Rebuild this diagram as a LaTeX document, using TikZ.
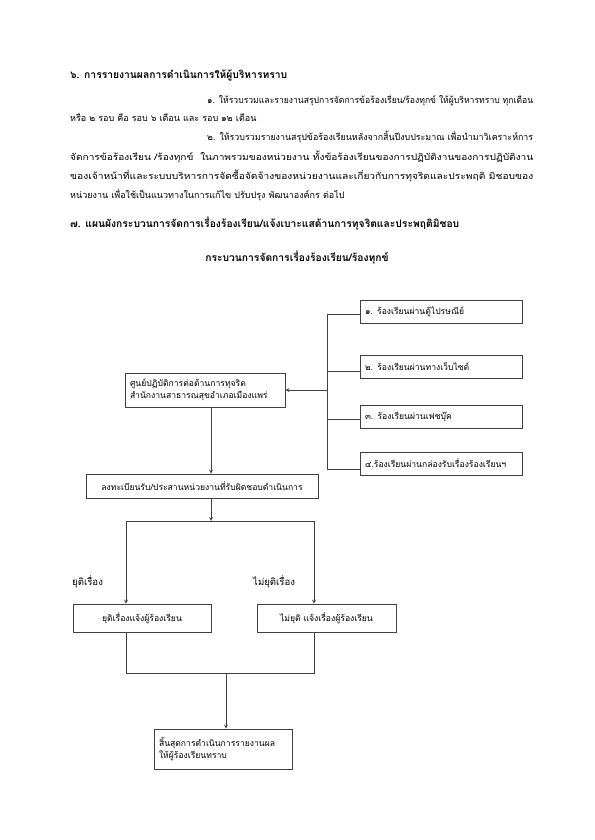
\documentclass[tikz,border=0pt]{standalone}
\usepackage{graphicx}
\usepackage{fontspec}
\setmainfont[Script=Thai]{Loma}
\newsavebox\linebox
\newcommand{\fitline}[2]{\sbox\linebox{#2}\resizebox{#1}{\ht\linebox}{\usebox\linebox}}
\begin{document}
\begin{tikzpicture}[x=1pt, y=-1pt, >=stealth,
    txt/.style={anchor=west, inner sep=0pt, font=\fontsize{9}{10}\selectfont},
    head/.style={txt, font=\fontsize{10.3}{12}\selectfont\bfseries},
    box/.style={draw=black!75, line width=0.8pt, inner sep=5pt, font=\fontsize{8.6}{12}\selectfont},
    flow/.style={draw=black!75, line width=0.8pt}]
  \useasboundingbox (0, 0) rectangle (594, 840);
  % section 6
  \node[head] (h6) at (70, 75) {๖. การรายงานผลการดำเนินการให้ผู้บริหารทราบ};
  \node[txt] (p1) at (207, 101) {\fitline{326pt}{๑. ให้รวบรวมและรายงานสรุปการจัดการข้อร้องเรียน/ร้องทุกข์ ให้ผู้บริหารทราบ ทุกเดือน}};
  \node[txt] (p2) at (70, 118) {หรือ ๒ รอบ คือ รอบ ๖ เดือน และ รอบ ๑๒ เดือน};
  \node[txt] (p3) at (207, 137) {\fitline{326pt}{๒. ให้รวบรวมรายงานสรุปข้อร้องเรียนหลังจากสิ้นปีงบประมาณ เพื่อนำมาวิเคราะห์การ}};
  \node[txt] (p4) at (70, 157) {\fitline{463pt}{จัดการข้อร้องเรียน /ร้องทุกข์ \ ในภาพรวมของหน่วยงาน ทั้งข้อร้องเรียนของการปฏิบัติงานของการปฏิบัติงาน}};
  \node[txt] (p5) at (70, 176) {\fitline{463pt}{ของเจ้าหน้าที่และระบบบริหารการจัดซื้อจัดจ้างของหน่วยงานและเกี่ยวกับการทุจริตและประพฤติ มิชอบของ}};
  \node[txt] (p6) at (70, 195) {หน่วยงาน เพื่อใช้เป็นแนวทางในการแก้ไข ปรับปรุง พัฒนาองค์กร ต่อไป};
  % section 7
  \node[head] (h7) at (70, 224) {๗. แผนผังกระบวนการจัดการเรื่องร้องเรียน/แจ้งเบาะแสด้านการทุจริตและประพฤติมิชอบ};
  \node[head, anchor=center] (title) at (297, 258) {กระบวนการจัดการเรื่องร้องเรียน/ร้องทุกข์};
  % channels
  \node[box, minimum width=162pt, minimum height=23pt, text width=152pt, align=left] (src1) at (441, 311.5) {๑. ร้องเรียนผ่านตู้ไปรษณีย์};
  \node[box, minimum width=162pt, minimum height=23pt, text width=152pt, align=left] (src2) at (441, 367) {๒. ร้องเรียนผ่านทางเว็บไซต์};
  \node[box, minimum width=162pt, minimum height=23pt, text width=152pt, align=left] (src3) at (441, 416.5) {๓. ร้องเรียนผ่านเฟซบุ๊ค};
  \node[box, minimum width=162pt, minimum height=23pt, text width=152pt, align=left] (src4) at (441, 463.5) {๔.ร้องเรียนผ่านกล่องรับเรื่องร้องเรียนฯ};
  \node[box, minimum width=160pt, minimum height=34pt, text width=150pt, align=left] (hub) at (205, 390) {ศูนย์ปฏิบัติการต่อต้านการทุจริต\\สำนักงานสาธารณสุขอำเภอเมืองแพร่};
  \node[box, minimum width=232pt, minimum height=24pt] (reg) at (202, 486) {ลงทะเบียนรับ/ประสานหน่วยงานที่รับผิดชอบดำเนินการ};
  \node[box, minimum width=138pt, minimum height=28pt] (done) at (142, 618) {ยุติเรื่องแจ้งผู้ร้องเรียน};
  \node[box, minimum width=139pt, minimum height=28pt] (notdone) at (326.5, 618) {ไม่ยุติ แจ้งเรื่องผู้ร้องเรียน};
  \node[box, minimum width=138pt, minimum height=40pt, text width=128pt, align=left] (final) at (223, 749) {สิ้นสุดการดำเนินการรายงานผล\\ให้ผู้ร้องเรียนทราบ};
  \node[txt, font=\fontsize{9.6}{10}\selectfont] (lblyes) at (72, 582) {ยุติเรื่อง};
  \node[txt, font=\fontsize{9.6}{10}\selectfont] (lblno) at (253, 582) {ไม่ยุติเรื่อง};
  % bus from the channels
  \coordinate (b1) at (327, 314);
  \coordinate (b2) at (327, 371);
  \coordinate (b3) at (327, 419);
  \coordinate (b4) at (327, 469);
  \coordinate (bh) at (327, 390);
  \draw[flow] (b1 -| src1.west) -- (b1) -- (b4) -- (b4 -| src4.west);
  \draw[flow] (b2) -- (b2 -| src2.west);
  \draw[flow] (b3) -- (b3 -| src3.west);
  \draw[flow, ->] (bh) -- (hub.east);
  % main flow
  \draw[flow, ->] ([xshift=6pt]hub.south) -- ([xshift=6pt]hub.south |- reg.north);
  \coordinate (sp) at (211, 521);
  \coordinate (sl) at (126, 521);
  \coordinate (sr) at (314, 521);
  \draw[flow, ->] (sp |- reg.south) -- (sp);
  \draw[flow] (sl) -- (sr);
  \draw[flow, ->] (sl) -- (sl |- done.north);
  \draw[flow, ->] (sr) -- (sr |- notdone.north);
  \coordinate (jl) at (126, 673);
  \coordinate (jr) at (314, 673);
  \coordinate (jm) at (226, 673);
  \draw[flow] (jl |- done.south) -- (jl) -- (jr) -- (jr |- notdone.south);
  \draw[flow, ->] (jm) -- (jm |- final.north);
\end{tikzpicture}
\end{document}
